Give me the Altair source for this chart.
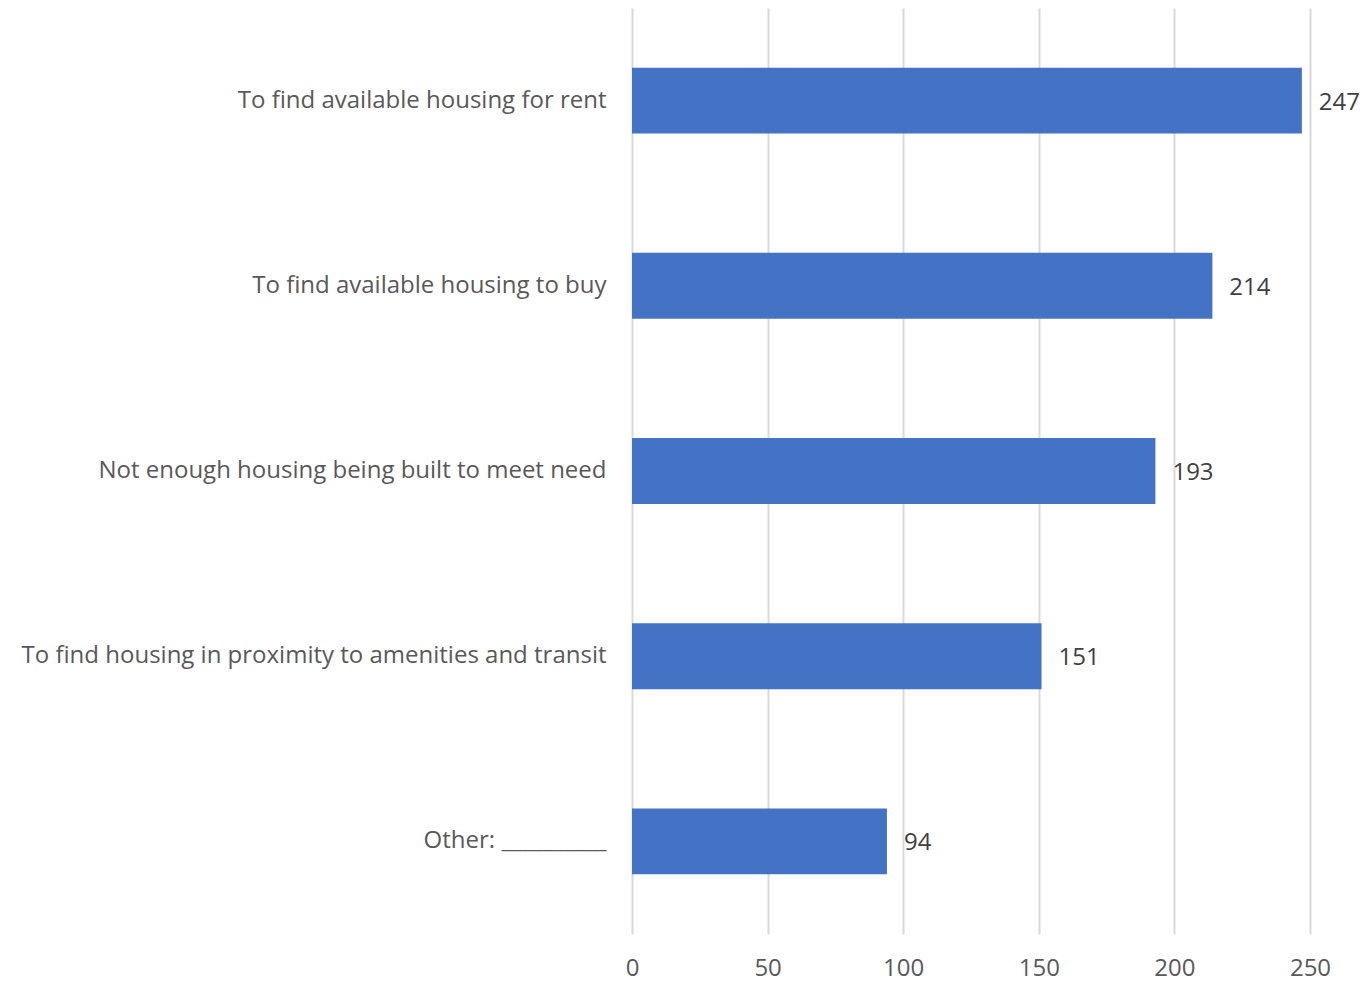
import altair as alt
import pandas as pd

categories = [
    "To find available housing for rent",
    "To find available housing to buy",
    "Not enough housing being built to meet need",
    "To find housing in proximity to amenities and transit",
    "Other: __________",
]
values = [247, 214, 193, 151, 94]
x_ticks = [0, 50, 100, 150, 200, 250]

df = pd.DataFrame({"category": categories, "value": values})

FONT = "Open Sans"
FS = 24

y_enc = alt.Y(
    "category:N",
    sort=categories,
    title=None,
    scale=alt.Scale(paddingInner=0.644, paddingOuter=0.322),
    axis=alt.Axis(
        domain=False,
        ticks=False,
        labelFont=FONT,
        labelFontSize=FS,
        labelColor="#595959",
        labelPadding=26,
        labelLimit=700,
        grid=False,
    ),
)

x_enc = alt.X(
    "value:Q",
    title=None,
    scale=alt.Scale(domain=[0, 250], nice=False),
    axis=alt.Axis(
        values=x_ticks,
        domain=False,
        ticks=False,
        grid=True,
        gridColor="#d9d9d9",
        gridWidth=2,
        labelFont=FONT,
        labelFontSize=24,
        labelColor="#595959",
        labelPadding=22,
        labelFlush=False,
    ),
)

bars = alt.Chart(df).mark_bar(color="#4472C4").encode(x=x_enc, y=y_enc)

labels = alt.Chart(df).mark_text(
    align="left", baseline="middle", dx=17, dy=2, font=FONT, fontSize=FS, color="#404040"
).encode(x=alt.X("value:Q"), y=alt.Y("category:N", sort=categories), text="value:Q")

chart = (
    alt.layer(bars, labels)
    .properties(
        width=678,
        height=926,
        background="white",
        autosize=alt.AutoSizeParams(type="none"),
        padding={"left": 624, "top": 0, "right": 54, "bottom": 55},
    )
    .configure_view(stroke=None)
)

chart.save("out.html", embed_options={"renderer": "svg", "actions": False})
